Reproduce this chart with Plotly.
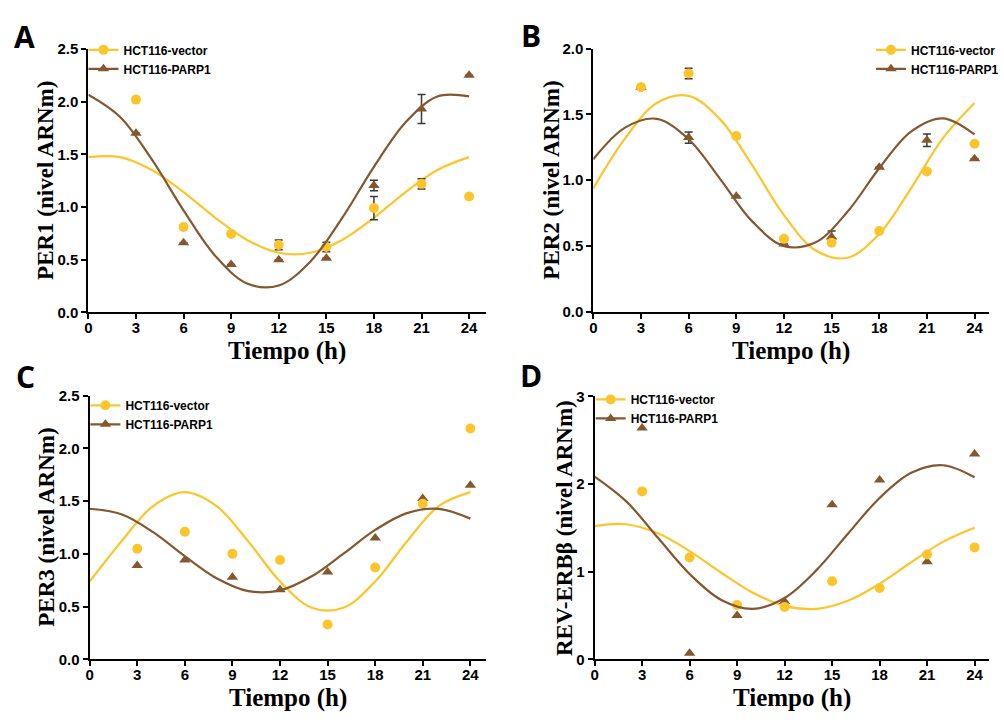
import plotly.graph_objects as go

# Sampling times (h)
TIME = [0, 3, 6, 9, 12, 15, 18, 21, 24]
# Times at which the fitted cosinor curves are drawn
CURVE_T = [0, 2, 4, 6, 8, 10, 12, 14, 16, 18, 20, 22, 24]

SERIES_NAMES = ["HCT116-vector", "HCT116-PARP1"]

# ---- PER1 ----
per1_vector = [None, 2.02, 0.81, 0.745, 0.64, 0.62, 0.99, 1.22, 1.10]
per1_parp1 = [None, 1.70, 0.66, 0.455, 0.50, 0.515, 1.205, 1.93, 2.25]
per1_vector_err = [None, None, None, None, 0.046, 0.045, 0.11, 0.048, None]
per1_parp1_err = [None, None, None, None, None, None, 0.05, 0.138, None]
per1_vector_fit = [1.474, 1.474, 1.352, 1.142, 0.898, 0.688, 0.566, 0.566, 0.688, 0.898, 1.142, 1.352, 1.474]
per1_parp1_fit = [2.066, 1.855, 1.452, 0.968, 0.536, 0.275, 0.255, 0.484, 0.897, 1.382, 1.805, 2.050, 2.050]

# ---- PER2 ----
per2_vector = [None, 1.708, 1.812, 1.337, 0.554, 0.525, 0.614, 1.067, 1.277]
per2_parp1 = [None, 1.708, 1.324, 0.879, 0.515, 0.569, 1.099, 1.304, 1.163]
per2_vector_err = [None, None, 0.04, None, None, None, None, None, None]
per2_parp1_err = [None, None, 0.043, None, None, 0.045, None, 0.048, None]
per2_vector_fit = [0.938, 1.318, 1.587, 1.642, 1.461, 1.114, 0.734, 0.465, 0.410, 0.591, 0.938, 1.318, 1.587]
per2_parp1_fit = [1.160, 1.400, 1.467, 1.312, 1.007, 0.687, 0.499, 0.528, 0.760, 1.091, 1.370, 1.471, 1.348]

# ---- PER3 ----
per3_vector = [None, 1.049, 1.21, 1.0, 0.941, 0.33, 0.87, 1.475, 2.188]
per3_parp1 = [None, 0.889, 0.941, 0.778, 0.66, 0.827, 1.151, 1.525, 1.651]
per3_vector_fit = [0.738, 1.118, 1.453, 1.585, 1.453, 1.118, 0.738, 0.489, 0.489, 0.738, 1.118, 1.453, 1.585]
per3_parp1_fit = [1.428, 1.375, 1.206, 0.978, 0.769, 0.647, 0.654, 0.787, 1.002, 1.227, 1.386, 1.426, 1.334]

# ---- REV-ERBβ ----
reverb_vector = [None, 1.916, 1.162, 0.62, 0.598, 0.891, 0.813, 1.196, 1.277]
reverb_parp1 = [None, 2.64, 0.07, 0.50, 0.66, 1.764, 2.046, 1.114, 2.343]
reverb_vector_fit = [1.520, 1.541, 1.437, 1.235, 0.988, 0.759, 0.609, 0.575, 0.668, 0.861, 1.107, 1.340, 1.501]
reverb_parp1_fit = [2.085, 1.802, 1.386, 0.974, 0.677, 0.576, 0.700, 1.015, 1.433, 1.841, 2.128, 2.214, 2.077]

YELLOW = "#FDC52C"
BROWN = "#84572F"
ERR = "#3a3a3a"

W, H = 1004, 722


def px_x(p):
    return p / W


def px_y(p):
    return 1 - p / H


panels = [
    dict(letter="A", ytitle="PER1 (nivel ARNm)", vec=per1_vector, parp=per1_parp1,
         vec_err=per1_vector_err, parp_err=per1_parp1_err,
         vec_fit=per1_vector_fit, parp_fit=per1_parp1_fit,
         xdom=(86, 491.7), xmax=25.09, ydom=(310.7, 41), yrange=(0, 2.5), dtick=0.5, tickfmt=".1f",
         letter_pos=(21, 28), ytitle_x=43, xtitle_y=350, legend_xy=(81, 27)),
    dict(letter="B", ytitle="PER2 (nivel ARNm)", vec=per2_vector, parp=per2_parp1,
         vec_err=per2_vector_err, parp_err=per2_parp1_err,
         vec_fit=per2_vector_fit, parp_fit=per2_parp1_fit,
         xdom=(600.7, 1004), xmax=24.91, ydom=(310, 40.7), yrange=(0, 2.0), dtick=0.5, tickfmt=".1f",
         letter_pos=(537, 27), ytitle_x=558, xtitle_y=350, legend_xy=(884, 27)),
    dict(letter="C", ytitle="PER3 (nivel ARNm)", vec=per3_vector, parp=per3_parp1,
         vec_err=None, parp_err=None,
         vec_fit=per3_vector_fit, parp_fit=per3_parp1_fit,
         xdom=(87.3, 491.7), xmax=25.01, ydom=(666, 396), yrange=(0, 2.5), dtick=0.5, tickfmt=".1f",
         letter_pos=(22, 376), ytitle_x=43, xtitle_y=706, legend_xy=(83, 391)),
    dict(letter="D", ytitle="REV-ERBβ (nivel ARNm)", vec=reverb_vector, parp=reverb_parp1,
         vec_err=None, parp_err=None,
         vec_fit=reverb_vector_fit, parp_fit=reverb_parp1_fit,
         xdom=(602, 1004), xmax=24.91, ydom=(666, 396.7), yrange=(0, 3), dtick=1, tickfmt="d",
         letter_pos=(537, 375), ytitle_x=572, xtitle_y=706, legend_xy=(598, 385)),
]

fig = go.Figure()
layout = {}
annotations = []

for i, p in enumerate(panels):
    n = i + 1
    xa = "x" if n == 1 else f"x{n}"
    ya = "y" if n == 1 else f"y{n}"
    lg = "legend" if n == 1 else f"legend{n}"

    # fitted curves
    fig.add_trace(go.Scatter(x=CURVE_T, y=p["vec_fit"], mode="lines", line=dict(color=YELLOW, width=2.2, shape="spline"),
                             xaxis=xa, yaxis=ya, showlegend=False, hoverinfo="skip"))
    # measured points
    fig.add_trace(go.Scatter(
        x=TIME, y=p["parp"], mode="markers", xaxis=xa, yaxis=ya, showlegend=False,
        marker=dict(symbol="triangle-up", size=10, color=BROWN),
        error_y=dict(type="data", array=p["parp_err"], visible=p["parp_err"] is not None,
                     color=ERR, thickness=1.5, width=4)))
    fig.add_trace(go.Scatter(
        x=TIME, y=p["vec"], mode="markers", xaxis=xa, yaxis=ya, showlegend=False,
        marker=dict(symbol="circle", size=10, color=YELLOW),
        error_y=dict(type="data", array=p["vec_err"], visible=p["vec_err"] is not None,
                     color=ERR, thickness=1.5, width=4)))
    fig.add_trace(go.Scatter(x=CURVE_T, y=p["parp_fit"], mode="lines", line=dict(color=BROWN, width=2.2, shape="spline"),
                             xaxis=xa, yaxis=ya, showlegend=False, hoverinfo="skip"))

    # legend entries (line + marker)
    fig.add_trace(go.Scatter(x=[None], y=[None], mode="lines+markers", name=SERIES_NAMES[0],
                             line=dict(color=YELLOW, width=2.2), marker=dict(symbol="circle", size=10, color=YELLOW),
                             xaxis=xa, yaxis=ya, legend=lg))
    fig.add_trace(go.Scatter(x=[None], y=[None], mode="lines+markers", name=SERIES_NAMES[1],
                             line=dict(color=BROWN, width=2.2), marker=dict(symbol="triangle-up", size=10, color=BROWN),
                             xaxis=xa, yaxis=ya, legend=lg))

    axis_common = dict(showline=True, linecolor="black", linewidth=2, ticks="outside", ticklen=5,
                       tickwidth=2, tickcolor="black", showgrid=False, zeroline=False,
                       tickfont=dict(family="Liberation Sans", size=15, color="black", weight="bold"))
    xkey = "xaxis" if n == 1 else f"xaxis{n}"
    ykey = "yaxis" if n == 1 else f"yaxis{n}"
    layout[xkey] = dict(axis_common, domain=[px_x(p["xdom"][0]), px_x(p["xdom"][1])], range=[0, p["xmax"]],
                        tickmode="array", tickvals=TIME, ticktext=[str(t) for t in TIME],
                        ticklabelstandoff=-4, anchor=ya)
    layout[ykey] = dict(axis_common, domain=[px_y(p["ydom"][0]), px_y(p["ydom"][1])], range=list(p["yrange"]),
                        dtick=p["dtick"], tick0=0, tickformat=p["tickfmt"], anchor=xa)
    layout[lg] = dict(x=px_x(p["legend_xy"][0]), y=px_y(p["legend_xy"][1]), xanchor="left", yanchor="top",
                      bgcolor="rgba(0,0,0,0)", itemwidth=30, tracegroupgap=0,
                      font=dict(family="Liberation Sans", size=12, color="black", weight="bold"))

    xmid = (p["xdom"][0] + p["xdom"][1]) / 2
    ymid = (p["ydom"][0] + p["ydom"][1]) / 2
    annotations.append(dict(text=p["letter"], x=px_x(p["letter_pos"][0]), y=px_y(p["letter_pos"][1]),
                            xref="paper", yref="paper", showarrow=False, xanchor="center", yanchor="middle",
                            font=dict(family="Open Sans", size=30, color="black", weight="bold")))
    annotations.append(dict(text="Tiempo (h)", x=px_x(xmid), y=px_y(p["xtitle_y"]),
                            xref="paper", yref="paper", showarrow=False, xanchor="center", yanchor="middle",
                            font=dict(family="Liberation Serif", size=25, color="black", weight="bold")))
    annotations.append(dict(text=p["ytitle"], x=px_x(p["ytitle_x"]), y=px_y(ymid), textangle=-90,
                            xref="paper", yref="paper", showarrow=False, xanchor="center", yanchor="middle",
                            font=dict(family="Liberation Serif", size=23, color="black", weight="bold")))

fig.update_layout(width=W, height=H, margin=dict(l=0, r=0, t=0, b=0), paper_bgcolor="white",
                  plot_bgcolor="white", annotations=annotations, **layout)

fig.write_html("out.html")
